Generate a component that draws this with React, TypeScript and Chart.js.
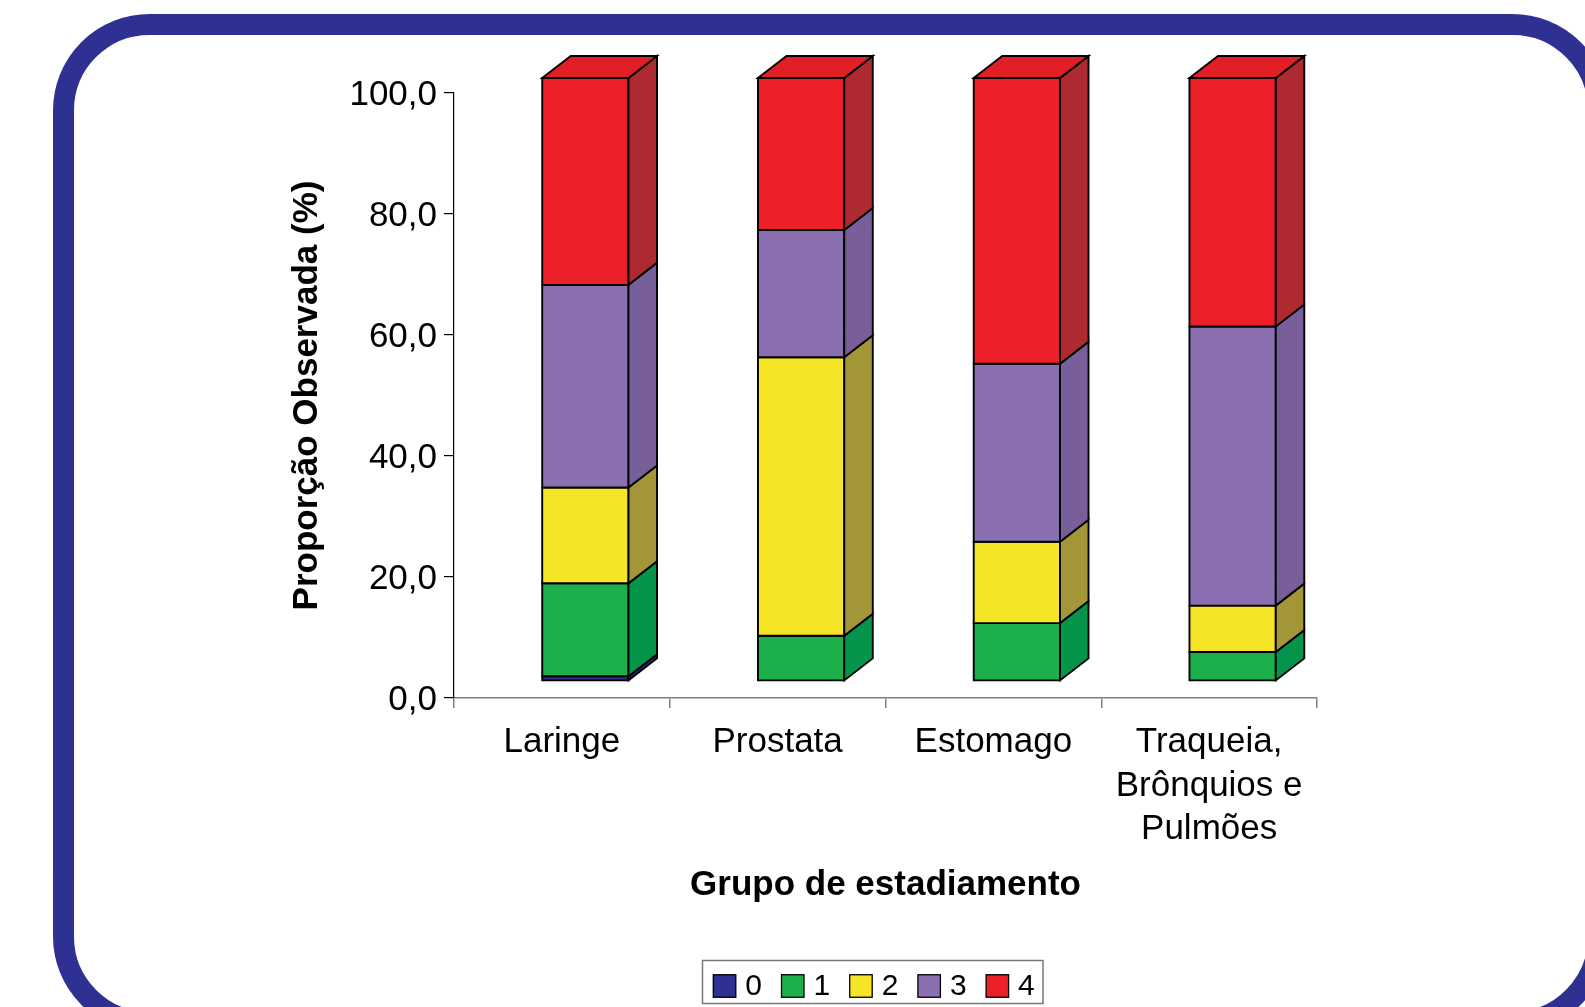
import React, { useEffect, useRef } from 'react';
import { Chart, registerables } from 'chart.js';

Chart.register(...registerables);

// ---------- data ----------
const categories: (string | string[])[] = ['Laringe', 'Prostata', 'Estomago', ['Traqueia,', 'Brônquios e', 'Pulmões']];
const stageLabels = ['0', '1', '2', '3', '4'];
const stage0 = [0.8, 0, 0, 0];
const stage1 = [15.4, 7.5, 9.6, 4.8];
const stage2 = [15.9, 46.2, 13.5, 7.7];
const stage3 = [33.6, 21.1, 29.5, 46.3];
const stage4 = [34.3, 25.2, 47.4, 41.2];
const yTickLabels = ['0,0', '20,0', '40,0', '60,0', '80,0', '100,0'];
const yAxisTitle = 'Proporção Observada (%)';
const xAxisTitle = 'Grupo de estadiamento';

// ---------- styles ----------
const frontColors = ['#2E3192', '#1CAF4B', '#F6E526', '#8A70B0', '#EC2028'];
const sideColors = ['#1F2270', '#05954A', '#A39639', '#785F99', '#AF2931'];
const topColors = ['#262A80', '#17A044', '#E8D820', '#8068A5', '#E21F27'];
const FONT = "'Liberation Sans', Arial, Helvetica, sans-serif";
const FRAME_COLOR = '#2E3192';

const OX = 23.5; // front face offset from axis plane
const OY = -17; // at value 0
const KY = 0.9967; // front face vertical scale relative to axis
const DX = 28.5; // bar depth
const DY = -22;

const framePlugin = {
  id: 'frame',
  beforeDraw(chart: any) {
    const ctx = chart.ctx;
    ctx.save();
    ctx.strokeStyle = FRAME_COLOR;
    ctx.lineWidth = 21;
    ctx.beginPath();
    (ctx as any).roundRect(63.5, 24.5, 1535, 998, 86);
    ctx.stroke();
    ctx.restore();
  },
};

const bars3dPlugin = {
  id: 'bars3d',
  beforeDatasetsDraw(chart: any) {
    const ctx = chart.ctx;
    const n = chart.data.labels.length;
    const dsCount = chart.data.datasets.length;
    const y0 = chart.scales.y.getPixelForValue(0);
    const fy = (p: number) => y0 + OY + (p - y0) * KY;
    ctx.save();
    ctx.lineWidth = 1.9;
    ctx.strokeStyle = '#000';
    ctx.lineJoin = 'miter';
    for (let j = 0; j < n; j++) {
      let topIdx = -1;
      for (let i = 0; i < dsCount; i++) {
        if (chart.data.datasets[i].data[j] > 0) topIdx = i;
      }
      for (let i = 0; i < dsCount; i++) {
        const v = chart.data.datasets[i].data[j];
        if (!(v > 0)) continue;
        const el = chart.getDatasetMeta(i).data[j];
        const { x, y, base, width } = el.getProps(['x', 'y', 'base', 'width'], true);
        const l = x - width / 2 + OX;
        const r = x + width / 2 + OX;
        const t = fy(y);
        const b = fy(base);
        // front
        ctx.fillStyle = frontColors[i];
        ctx.beginPath();
        ctx.rect(l, t, r - l, b - t);
        ctx.fill();
        ctx.stroke();
        // side
        ctx.fillStyle = sideColors[i];
        ctx.beginPath();
        ctx.moveTo(r, t);
        ctx.lineTo(r + DX, t + DY);
        ctx.lineTo(r + DX, b + DY);
        ctx.lineTo(r, b);
        ctx.closePath();
        ctx.fill();
        ctx.stroke();
        if (i === topIdx) {
          ctx.fillStyle = topColors[i];
          ctx.beginPath();
          ctx.moveTo(l, t);
          ctx.lineTo(l + DX, t + DY);
          ctx.lineTo(r + DX, t + DY);
          ctx.lineTo(r, t);
          ctx.closePath();
          ctx.fill();
          ctx.stroke();
        }
      }
    }
    ctx.restore();
    return false;
  },
};

const legendPlugin = {
  id: 'boxLegend',
  afterDraw(chart: any) {
    const ctx = chart.ctx;
    const ds = chart.data.datasets;
    ctx.save();
    ctx.strokeStyle = '#777';
    ctx.lineWidth = 1.5;
    ctx.strokeRect(702.5, 960.5, 340.5, 43);
    const x0 = 713.3;
    const pitch = 68.2;
    const box = 22.5;
    const cy = 986;
    ctx.font = `30px ${FONT}`;
    ctx.textBaseline = 'middle';
    ctx.textAlign = 'left';
    ds.forEach((d: any, i: number) => {
      const bx = x0 + i * pitch;
      ctx.fillStyle = d.backgroundColor;
      ctx.fillRect(bx, cy - box / 2, box, box);
      ctx.strokeStyle = '#000';
      ctx.lineWidth = 1.3;
      ctx.strokeRect(bx, cy - box / 2, box, box);
      ctx.fillStyle = '#000';
      ctx.fillText(d.label, bx + box + 9.5, cy + 1);
    });
    ctx.restore();
  },
};

export default function App() {
  const ref = useRef<HTMLCanvasElement | null>(null);

  useEffect(() => {
    if (!ref.current) return;
    const series = [stage0, stage1, stage2, stage3, stage4];
    const chart = new Chart(ref.current, {
      type: 'bar',
      data: {
        labels: categories as any,
        datasets: series.map((s, i) => ({
          label: stageLabels[i],
          data: s,
          backgroundColor: frontColors[i],
          borderColor: '#000',
          borderWidth: 0,
          categoryPercentage: 1,
          barPercentage: 0.4,
        })),
      },
      options: {
        animation: false,
        responsive: false,
        maintainAspectRatio: false,
        events: [],
        layout: { padding: { left: 0, right: 268, top: 93, bottom: 0 } },
        plugins: {
          legend: { display: false },
          tooltip: { enabled: false },
          title: { display: false },
        },
        scales: {
          x: {
            stacked: true,
            offset: true,
            afterFit: (scale: any) => {
              scale.height = 309;
            },
            grid: {
              display: true,
              offset: true,
              drawOnChartArea: false,
              drawTicks: true,
              tickLength: 10,
              color: '#808080',
              lineWidth: 1.5,
            },
            border: { display: true, color: '#808080', width: 1.5 },
            ticks: {
              color: '#000',
              font: { family: FONT, size: 35, lineHeight: 1.24 },
              padding: 13,
              maxRotation: 0,
              minRotation: 0,
              autoSkip: false,
            },
            title: {
              display: true,
              text: xAxisTitle,
              color: '#000',
              font: { family: FONT, size: 35, weight: 'bold', lineHeight: 1.2 },
              padding: { top: 0, bottom: 100.5 },
            },
          },
          y: {
            stacked: true,
            min: 0,
            max: 100,
            afterFit: (scale: any) => {
              scale.width = 454;
            },
            grid: {
              display: true,
              drawOnChartArea: false,
              drawTicks: true,
              tickLength: 10,
              color: '#000',
              lineWidth: 1.2,
            },
            border: { display: true, color: '#000', width: 1.2 },
            ticks: {
              stepSize: 20,
              color: '#000',
              padding: 7,
              labelOffset: 2.5,
              font: { family: FONT, size: 35 },
              callback: (_v: any, idx: number) => yTickLabels[idx],
            },
            title: {
              display: true,
              text: yAxisTitle,
              color: '#000',
              font: { family: FONT, size: 35, weight: 'bold', lineHeight: 1.2 },
              padding: { top: 286, bottom: 0 },
            },
          },
        },
      },
      plugins: [framePlugin, bars3dPlugin, legendPlugin],
    });
    return () => chart.destroy();
  }, []);

  return (
    <div style={{ position: 'absolute', left: 0, top: 0, width: 1585, height: 1007, overflow: 'hidden', background: '#fff' }}>
      <canvas ref={ref} width={1585} height={1007} style={{ display: 'block', width: 1585, height: 1007 }} />
    </div>
  );
}
